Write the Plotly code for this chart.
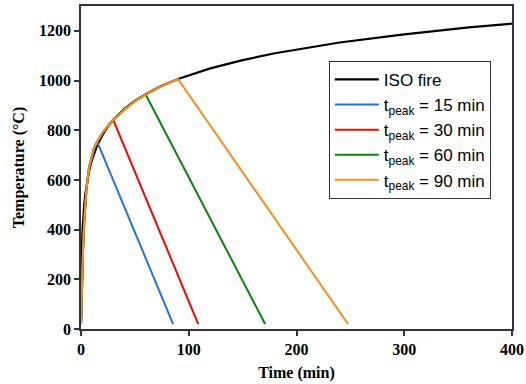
import plotly.graph_objects as go

# ISO fire curve values (time in min, temperature in °C)
iso_time = [0, 0.25, 0.5, 1, 1.5, 2, 3, 4, 5, 7.5, 10, 12, 15, 20, 25, 30, 40, 45, 50,
            60, 75, 90, 120, 150, 180, 240, 300, 360, 400]
iso_temp = [20, 185, 261, 349, 404, 445, 502, 544, 576, 636, 678, 705, 739, 781, 815,
            842, 885, 902, 918, 945, 979, 1006, 1049, 1082, 1110, 1153, 1186, 1214, 1229]

# Parametric fire heating phase (shared by all four curves up to their peak)
heat_time = [0, 0.5, 1, 2, 3, 4, 5, 7.5, 10, 12, 15, 20, 25, 30, 40, 45, 50, 60, 75, 90]
heat_temp = [20, 116, 199, 331, 430, 504, 560, 650, 700, 726, 754, 790, 817, 841, 882,
             900, 916, 944, 978, 1006]

# Peak time and end of cooling branch (time, temperature)
peak_times = [15, 30, 60, 90]
end_times = [85.5, 108.8, 170.9, 247.8]
end_temps = [20, 20, 20, 20]
labels = ["t<sub>peak</sub> = 15 min", "t<sub>peak</sub> = 30 min",
          "t<sub>peak</sub> = 60 min", "t<sub>peak</sub> = 90 min"]
colors = ["#2272e3", "#ff0000", "#08880a", "#ff8a1c"]

fig = go.Figure()
fig.add_trace(go.Scatter(x=iso_time, y=iso_temp, mode="lines", name="ISO fire",
                         line=dict(color="black", width=2.2)))

for tp, te, Te, lab, col in zip(peak_times, end_times, end_temps, labels, colors):
    xs = [t for t in heat_time if t <= tp]
    ys = [T for t, T in zip(heat_time, heat_temp) if t <= tp]
    xs.append(te)
    ys.append(Te)
    fig.add_trace(go.Scatter(x=xs, y=ys, mode="lines", name=lab,
                             line=dict(color=col, width=2)))

serif_bold = dict(family="Liberation Serif", size=16, color="black", weight="bold")
axis_common = dict(showline=True, linecolor="#333333", linewidth=1.5, mirror=True,
                   ticks="outside", ticklen=5, tickwidth=1.5, tickcolor="#333333",
                   showgrid=False, zeroline=False, automargin=False,
                   tickfont=serif_bold)

fig.update_layout(
    width=526, height=384,
    margin=dict(l=81, r=14, t=6, b=55),
    plot_bgcolor="white", paper_bgcolor="white",
    xaxis=dict(range=[0, 400], tickvals=[0, 100, 200, 300, 400],
               title=dict(text="Time (min)", standoff=10, font=serif_bold),
               **axis_common),
    yaxis=dict(range=[0, 1300], tickvals=[0, 200, 400, 600, 800, 1000, 1200],
               title=dict(text="Temperature (°C)", standoff=10, font=serif_bold),
               **axis_common),
    legend=dict(x=0.575, y=0.83, xanchor="left", yanchor="top",
                bgcolor="white", bordercolor="#333333", borderwidth=1,
                font=dict(family="Liberation Sans", size=17, color="black"),
                itemwidth=44, tracegroupgap=0),
    showlegend=True,
)

fig.write_html("out.html", config={"displayModeBar": False},
               post_script="document.body.style.margin='0';")
